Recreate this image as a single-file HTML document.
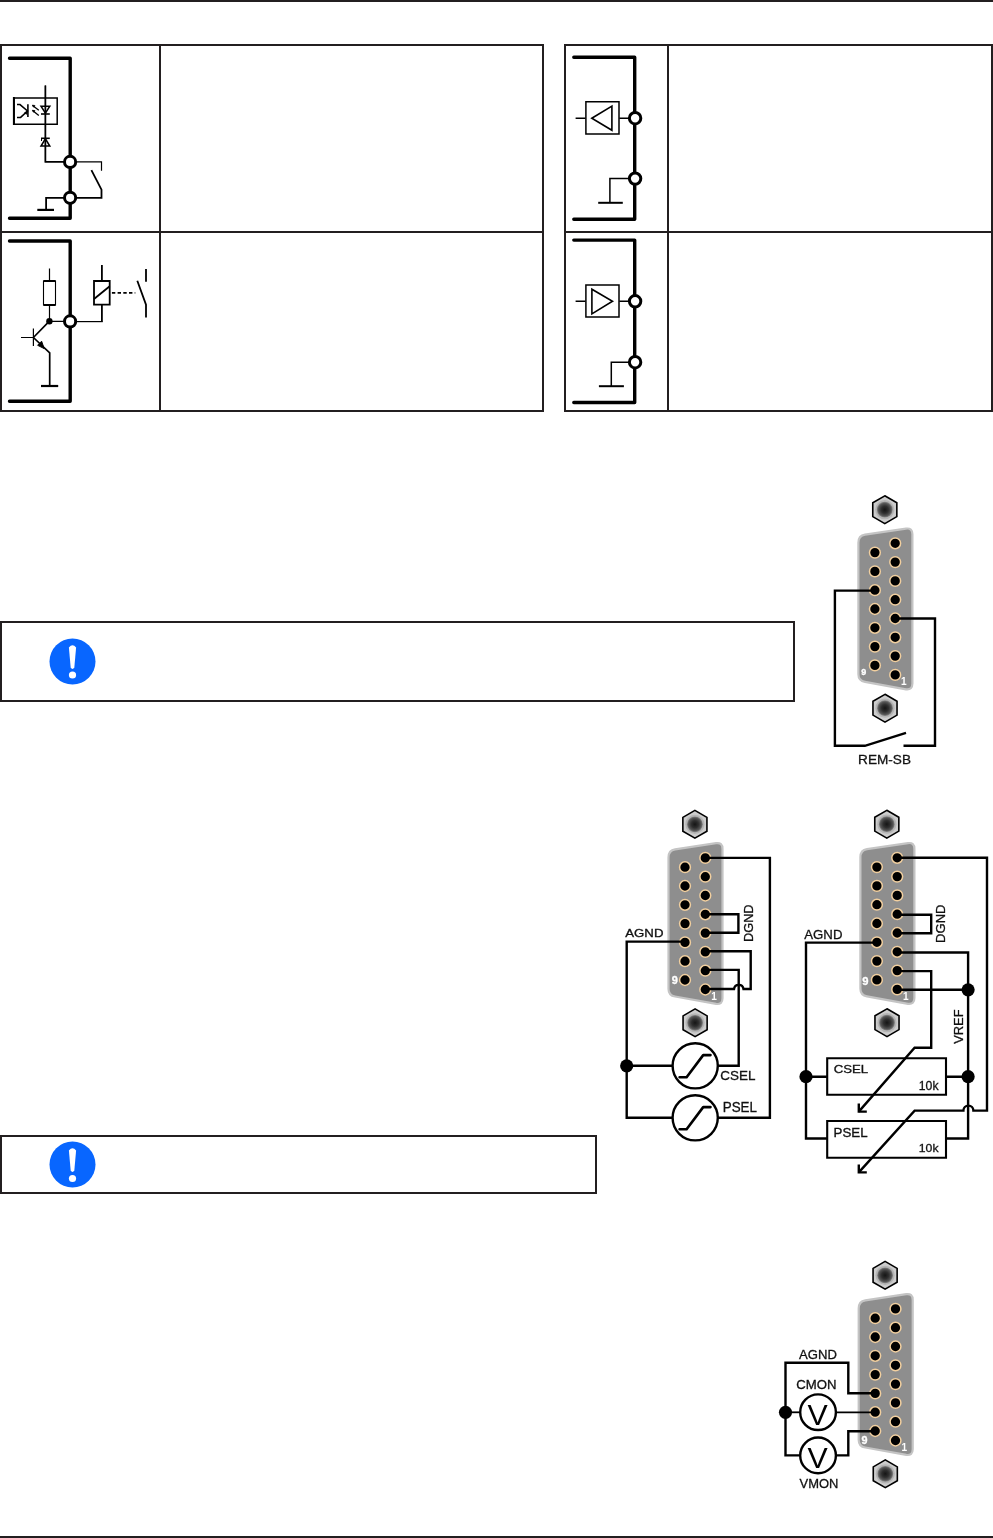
<!DOCTYPE html>
<html><head><meta charset="utf-8">
<style>
html,body{margin:0;padding:0;background:#fff;}
body{width:993px;height:1538px;position:relative;overflow:hidden;font-family:"Liberation Sans",sans-serif;}
svg{position:absolute;left:0;top:0;will-change:transform;}
</style></head>
<body>
<svg width="993" height="1538" viewBox="0 0 993 1538">

<defs>
  <radialGradient id="nutg" cx="0.5" cy="0.5" r="0.5">
    <stop offset="0" stop-color="#151515"/>
    <stop offset="0.45" stop-color="#2e2e2e"/>
    <stop offset="0.8" stop-color="#555"/>
    <stop offset="1" stop-color="#8a8a8a"/>
  </radialGradient>
  <g id="conn">
    <path d="M-10.40,-47.50 L1.64,-40.55 L1.64,-26.65 L-10.40,-19.70 L-22.44,-26.65 L-22.44,-40.55 Z" fill="#cdcdcd" stroke="#000" stroke-width="1.6"/><circle cx="-10.4" cy="-33.6" r="9.6" fill="#b4b4b4"/><circle cx="-10.4" cy="-33.6" r="7.9" fill="url(#nutg)"/><path d="M-10.20,151.00 L1.84,157.95 L1.84,171.85 L-10.20,178.80 L-22.24,171.85 L-22.24,157.95 Z" fill="#cdcdcd" stroke="#000" stroke-width="1.6"/><circle cx="-10.2" cy="164.9" r="9.6" fill="#b4b4b4"/><circle cx="-10.2" cy="164.9" r="7.9" fill="url(#nutg)"/>
    <path d="M-36.8 -0.5 Q-36.8 -7.6 -30.2 -8.6 L10.8 -14.7 Q17.2 -15.6 17.2 -9 V140.3 Q17.2 146.8 10.8 146 L-30.2 138.6 Q-36.8 137.4 -36.8 131 Z" fill="#8e8e8e" stroke="#c4c4c4" stroke-width="2.2"/>
    <circle cx="0" cy="0.0" r="5.4" fill="#000" stroke="#f1cf9f" stroke-width="1.5"/><circle cx="0" cy="18.8" r="5.4" fill="#000" stroke="#f1cf9f" stroke-width="1.5"/><circle cx="0" cy="37.6" r="5.4" fill="#000" stroke="#f1cf9f" stroke-width="1.5"/><circle cx="0" cy="56.4" r="5.4" fill="#000" stroke="#f1cf9f" stroke-width="1.5"/><circle cx="0" cy="75.2" r="5.4" fill="#000" stroke="#f1cf9f" stroke-width="1.5"/><circle cx="0" cy="94.0" r="5.4" fill="#000" stroke="#f1cf9f" stroke-width="1.5"/><circle cx="0" cy="112.8" r="5.4" fill="#000" stroke="#f1cf9f" stroke-width="1.5"/><circle cx="0" cy="131.6" r="5.4" fill="#000" stroke="#f1cf9f" stroke-width="1.5"/><circle cx="-20.3" cy="9.3" r="5.4" fill="#000" stroke="#f1cf9f" stroke-width="1.5"/><circle cx="-20.3" cy="28.1" r="5.4" fill="#000" stroke="#f1cf9f" stroke-width="1.5"/><circle cx="-20.3" cy="46.9" r="5.4" fill="#000" stroke="#f1cf9f" stroke-width="1.5"/><circle cx="-20.3" cy="65.7" r="5.4" fill="#000" stroke="#f1cf9f" stroke-width="1.5"/><circle cx="-20.3" cy="84.5" r="5.4" fill="#000" stroke="#f1cf9f" stroke-width="1.5"/><circle cx="-20.3" cy="103.3" r="5.4" fill="#000" stroke="#f1cf9f" stroke-width="1.5"/><circle cx="-20.3" cy="122.1" r="5.4" fill="#000" stroke="#f1cf9f" stroke-width="1.5"/>
    <text x="5.9" y="142" font-family="Liberation Sans" font-weight="bold" font-size="11.3" fill="#fff" textLength="5.6" lengthAdjust="spacingAndGlyphs">1</text>
  </g>
</defs>
<g id="frame" fill="#231f20" stroke="none">
  <rect x="0" y="0" width="993" height="2"/>
  <rect x="0" y="1536" width="993" height="2"/>
  <!-- left table -->
  <rect x="0" y="44" width="544" height="2"/>
  <rect x="0" y="231" width="544" height="2"/>
  <rect x="0" y="410" width="544" height="2"/>
  <rect x="0" y="44" width="2" height="368"/>
  <rect x="159" y="44" width="2" height="368"/>
  <rect x="542" y="44" width="2" height="368"/>
  <!-- right table -->
  <rect x="564" y="44" width="429" height="2"/>
  <rect x="564" y="231" width="429" height="2"/>
  <rect x="564" y="410" width="429" height="2"/>
  <rect x="564" y="44" width="2" height="368"/>
  <rect x="667" y="44" width="2" height="368"/>
  <rect x="991" y="44" width="2" height="368"/>
  <!-- info box 1 -->
  <rect x="0" y="621" width="795" height="2"/>
  <rect x="0" y="700" width="795" height="2"/>
  <rect x="0" y="621" width="2" height="81"/>
  <rect x="793" y="621" width="2" height="81"/>
  <!-- info box 2 -->
  <rect x="0" y="1135" width="597" height="2"/>
  <rect x="0" y="1192" width="597" height="2"/>
  <rect x="0" y="1135" width="2" height="59"/>
  <rect x="595" y="1135" width="2" height="59"/>
</g>

<g id="cells" fill="none" stroke="#000" stroke-linecap="butt" stroke-linejoin="miter">
  <!-- cell 1 -->
  <path d="M9.5 58.2 H70.2 V218.3 H9.5" stroke-width="3.4" stroke-linecap="round" stroke-linejoin="round"/>
  <circle cx="70.1" cy="161.9" r="5.6" stroke-width="3" fill="#fff"/>
  <circle cx="70.1" cy="197.8" r="5.6" stroke-width="3" fill="#fff"/>
  <path d="M45.4 85.6 V161.9 H64.5" stroke-width="1.7"/>
  <path d="M45.4 85.6 V161.9" stroke-width="1.1"/>
  <path d="M14 97.9 H57.2 V124.2 H14 Z" stroke-width="1.5"/>
  <path d="M13.9 97 V125" stroke-width="2"/>
  <path d="M41 106.2 H49.8 L45.4 113.2 Z" stroke-width="1.5"/>
  <path d="M41 114 H49.8" stroke-width="1.6"/>
  <path d="M32.6 105.4 L38.8 110.3 M32.6 110.5 L38.8 115.6" stroke-width="1.3"/>
  <path d="M32.3 105.2 l2.6 0.3 l-1.2 1.7 Z M32.3 110.3 l2.6 0.3 l-1.2 1.7 Z" fill="#000" stroke-width="0.8"/>
  <path d="M27.9 104.3 V117" stroke-width="1.6"/>
  <path d="M17 104.6 H20 L27.5 111 L20.6 117.4 H17" stroke-width="1.5"/>
  <path d="M24.5 113 l3 -2 l-1 3.2 Z" fill="#000" stroke-width="1"/>
  <path d="M41 138.3 H49.8" stroke-width="1.6"/>
  <path d="M41 146.1 H49.8 L45.4 138.8 Z" stroke-width="1.5"/>
  <path d="M41.5 138.3 V141" stroke-width="1"/>
  <path d="M75.6 161.9 H101.5 V170.8" stroke-width="1.2"/>
  <path d="M91.4 170.1 L101.5 189.7 V197.8 H75.6" stroke-width="1.8"/>
  <path d="M64.5 197.8 H46.1 V209.9" stroke-width="1.8"/>
  <path d="M37.3 209.9 H54" stroke-width="2.2"/>
  <!-- cell 3 -->
  <path d="M9.5 241 H70.2 V401.3 H9.5" stroke-width="3.4" stroke-linecap="round" stroke-linejoin="round"/>
  <circle cx="70.1" cy="321.4" r="5.6" stroke-width="3" fill="#fff"/>
  <path d="M49.5 268.5 V281 M49.5 305 V321.3 H64.5" stroke-width="1.2"/>
  <path d="M43.5 281 H55.5 V305 H43.5 Z" stroke-width="1.1"/>
  <path d="M43.5 281 H55.5 M43.5 305 H55.5" stroke-width="1.8"/>
  <circle cx="49.4" cy="321.2" r="3.2" fill="#000" stroke="none"/>
  <path d="M21 337.5 H33.4 M33.4 328.6 V346.1" stroke-width="1.2"/>
  <path d="M33.4 337.5 L49.4 321.2 M33.4 337.5 L49.7 352.8 V385.7" stroke-width="1.7"/>
  <path d="M44.2 348.6 L37.6 345.3 L41.6 341.2 Z" fill="#000" stroke-width="1"/>
  <path d="M41 386 H58.2" stroke-width="2.2"/>
  <path d="M94 281 H109.7 V304.7 H94 Z" stroke-width="1.8"/>
  <path d="M94 299 L109.7 286.3" stroke-width="1.8"/>
  <path d="M101.9 265 V281 M101.9 304.7 V321.6" stroke-width="1.8"/>
  <path d="M75.6 321.6 H102.8" stroke-width="1.2"/>
  <path d="M111.9 292.9 H135.3" stroke-width="1.6" stroke-dasharray="3.4 2.3"/>
  <path d="M146 269 V281.7 M137.3 280.8 L146 304.7 V317.6" stroke-width="1.8"/>
  <!-- cell 2 -->
  <path d="M573.8 57.2 H634.7 V219.3 H573.8" stroke-width="3.4" stroke-linecap="round" stroke-linejoin="round"/>
  <circle cx="635.1" cy="118.2" r="5.7" stroke-width="3" fill="#fff"/>
  <circle cx="635.1" cy="178.6" r="5.7" stroke-width="3" fill="#fff"/>
  <path d="M585.9 101.8 H619 V134.1 H585.9 Z" stroke-width="1.5"/>
  <path d="M591.8 118.3 L611.9 106.1 V130.3 Z" stroke-width="1.6"/>
  <path d="M575.6 118.2 H585.5 M619.3 118.2 H629.5" stroke-width="1.5"/>
  <path d="M629.5 178.6 H609.9 V202.8" stroke-width="1.5"/>
  <path d="M598.2 202.8 H622.8" stroke-width="2"/>
  <!-- cell 4 -->
  <path d="M573.8 240.1 H634.7 V402.5 H573.8" stroke-width="3.4" stroke-linecap="round" stroke-linejoin="round"/>
  <circle cx="635.1" cy="301.3" r="5.7" stroke-width="3" fill="#fff"/>
  <circle cx="635.1" cy="362.2" r="5.7" stroke-width="3" fill="#fff"/>
  <path d="M585.9 284.9 H619 V317 H585.9 Z" stroke-width="1.5"/>
  <path d="M591.9 289.2 V313.9 L612.5 301.3 Z" stroke-width="1.6"/>
  <path d="M575.6 301.3 H585.5 M619.3 301.3 H629.5" stroke-width="1.5"/>
  <path d="M629.5 362.2 H611.3 V386.2" stroke-width="1.5"/>
  <path d="M598.9 386.2 H623.9" stroke-width="2"/>
</g>

<g id="connectors">
  <use href="#conn" x="895.2" y="543.3"/>
  <use href="#conn" x="705.3" y="857.9"/>
  <use href="#conn" x="897.2" y="857.8"/>
  <use href="#conn" x="895.5" y="1308.9"/>
</g>

<g id="nines" font-family="Liberation Sans" font-weight="bold" fill="#fff" stroke="#fff" stroke-width="0.35"><text x="861.24" y="675.00" font-size="8.95">9</text><text x="671.76" y="984.00" font-size="10.91">9</text><text x="862.35" y="985.00" font-size="11.19">9</text><text x="861.57" y="1443.80" font-size="10.77">9</text></g>
<g id="wires" fill="none" stroke="#000" stroke-width="2.4" stroke-linejoin="miter">
  <!-- conn1 -->
  <path d="M875 590.6 H834.9 V745.8 H864.9 L906 732.9"/>
  <path d="M895.2 618.5 H935 V745.8 H903.5"/>
  <!-- conn2a -->
  <path d="M705.3 857.9 H769.9 V1117.8 H717.8"/>
  <path d="M705.3 914.2 H738.4 V932.8 H705.3"/>
  <path d="M685 941.6 H626.7 V1117.8 H672.6"/>
  <path d="M705.3 951.3 H750.7 V989 H743.5 A4.8 4.8 0 0 0 734 989 H705.3"/>
  <path d="M705.3 969.9 H738.7 V1065.8 H717.8"/>
  <path d="M626.7 1065.8 H672.6"/>
  <circle cx="695.2" cy="1065.8" r="22.6"/>
  <circle cx="695.2" cy="1117.8" r="22.6"/>
  <path d="M679.6 1077.3 H686.6 L703.2 1055.1 H710.5" stroke-width="2.6" stroke-linejoin="round" stroke-linecap="round"/>
  <path d="M679.6 1129.3 H686.6 L703.2 1107.1 H710.5" stroke-width="2.6" stroke-linejoin="round" stroke-linecap="round"/>
  <!-- conn2b -->
  <path d="M897.2 857.8 H987 V1110.6 H973.4 A5 5 0 0 0 963.4 1110.6 H914.6 L858.8 1172.4"/>
  <path d="M897.2 914.7 H931.2 V933.2 H897.2"/>
  <path d="M876.4 942.6 H806 V1138.5 H826.9"/>
  <path d="M897.2 952.5 H968.1 V1138.5 H946.5"/>
  <path d="M897.2 971.1 H931.2 V1047.8 H914.6 L858.8 1111.6"/>
  <path d="M897.2 989.8 H968.1"/>
  <path d="M806 1076.7 H826.9 M946.5 1076.7 H968.1"/>
  <path d="M827.2 1058.2 H946 V1094.8 H827.2 Z" stroke-width="2.1"/>
  <path d="M827.2 1121 H946 V1157.7 H827.2 Z" stroke-width="2.1"/>
  <path d="M866.8 1111.6 H858.8 V1103.6 M866.8 1172.4 H858.8 V1164.4"/>
  <!-- conn3 -->
  <path d="M874.9 1393.2 H848.3 V1362.7 H785.5 V1455.4 H799.6"/>
  <path d="M785.5 1412.3 H799.6" stroke-width="1.8"/>
  <path d="M836.6 1412.3 H875" stroke-width="1.8"/>
  <path d="M836.6 1455.4 H848.3 V1431.2 H875"/>
  <circle cx="818.05" cy="1412.2" r="17.85" stroke-width="2.4"/>
  <circle cx="818.05" cy="1455.4" r="17.85" stroke-width="2.4"/>
</g>
<g id="dots" fill="#000">
  <circle cx="626.7" cy="1065.8" r="6.6"/>
  <circle cx="968.1" cy="989.8" r="6.6"/>
  <circle cx="806" cy="1076.7" r="6.6"/>
  <circle cx="968.1" cy="1076.7" r="6.6"/>
  <circle cx="785.5" cy="1412.3" r="6.6"/>
</g>
<g id="labels" font-family="Liberation Sans" fill="#111" stroke="#111" stroke-width="0.3">
  <text x="858.11" y="764.40" font-size="13.29" textLength="52.86" lengthAdjust="spacingAndGlyphs">REM-SB</text>
  <text x="625.30" y="936.60" font-size="10.91" textLength="38.15" lengthAdjust="spacingAndGlyphs">AGND</text>
  <text x="0" y="0" font-size="12.31" textLength="37.48" lengthAdjust="spacingAndGlyphs" transform="translate(752.70 941.92) rotate(-90)">DGND</text>
  <text x="720.33" y="1079.90" font-size="13.01" textLength="35.11" lengthAdjust="spacingAndGlyphs">CSEL</text>
  <text x="722.73" y="1111.90" font-size="13.85" textLength="34.27" lengthAdjust="spacingAndGlyphs">PSEL</text>
  <text x="804.30" y="938.60" font-size="13.29" textLength="38.15" lengthAdjust="spacingAndGlyphs">AGND</text>
  <text x="0" y="0" font-size="13.43" textLength="38.42" lengthAdjust="spacingAndGlyphs" transform="translate(944.70 942.94) rotate(-90)">DGND</text>
  <text x="0" y="0" font-size="12.73" textLength="34.41" lengthAdjust="spacingAndGlyphs" transform="translate(963.30 1043.83) rotate(-90)">VREF</text>
  <text x="833.74" y="1072.50" font-size="10.91" textLength="34.49" lengthAdjust="spacingAndGlyphs">CSEL</text>
  <text x="918.82" y="1089.50" font-size="12.73" textLength="19.71" lengthAdjust="spacingAndGlyphs">10k</text>
  <text x="833.64" y="1137.10" font-size="11.89" textLength="33.96" lengthAdjust="spacingAndGlyphs">PSEL</text>
  <text x="918.82" y="1151.50" font-size="11.61" textLength="19.71" lengthAdjust="spacingAndGlyphs">10k</text>
  <text x="799.10" y="1358.80" font-size="13.15" textLength="37.84" lengthAdjust="spacingAndGlyphs">AGND</text>
  <text x="796.24" y="1389.30" font-size="12.73" textLength="40.28" lengthAdjust="spacingAndGlyphs">CMON</text>
  <text x="799.57" y="1487.70" font-size="13.57" textLength="38.87" lengthAdjust="spacingAndGlyphs">VMON</text>
</g>
<g id="vglyphs" font-family="Liberation Sans" fill="#000" text-anchor="middle">
  <text x="817.6" y="1424.9" font-size="30.3">V</text>
  <text x="817.6" y="1468.1" font-size="30.3">V</text>
</g>
<g id="icons">
  <circle cx="72.5" cy="661.5" r="23" fill="#0866ff"/>
  <path d="M68.9 647.6 Q72.5 642.8 76.1 647.6 L74.3 667.8 Q72.5 670 70.7 667.8 Z" fill="#fff"/>
  <circle cx="72.5" cy="675" r="3.6" fill="#fff"/>
  <circle cx="72.5" cy="1164.5" r="23" fill="#0866ff"/>
  <path d="M68.9 1150.6 Q72.5 1145.8 76.1 1150.6 L74.3 1170.8 Q72.5 1173 70.7 1170.8 Z" fill="#fff"/>
  <circle cx="72.5" cy="1178.5" r="3.6" fill="#fff"/>
</g>
</svg>
</body></html>
